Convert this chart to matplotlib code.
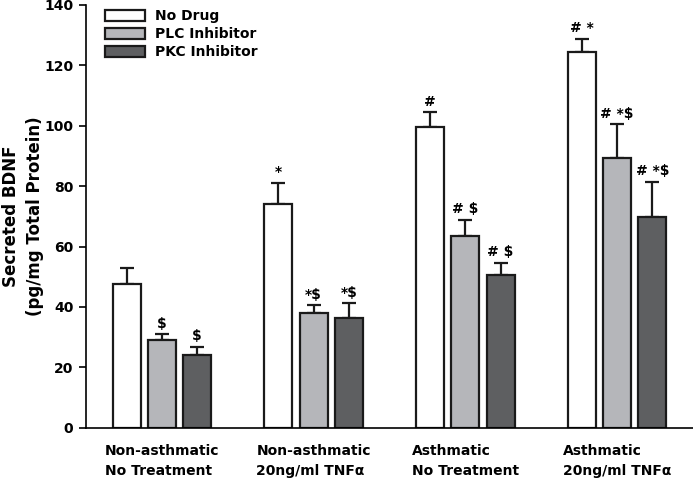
import matplotlib.pyplot as plt
import numpy as np

plt.rcParams['font.family'] = ['DejaVu Sans']
plt.rcParams['font.weight'] = 'bold'

groups = ['Non-asthmatic\nNo Treatment', 'Non-asthmatic\n20ng/ml TNF\u03b1',
          'Asthmatic\nNo Treatment', 'Asthmatic\n20ng/ml TNF\u03b1']
series = ['No Drug', 'PLC Inhibitor', 'PKC Inhibitor']
no_drug = [47.7, 74.2, 99.7, 124.4]
plc = [29.2, 38.0, 63.6, 89.2]
pkc = [24.1, 36.5, 50.7, 69.9]
no_drug_err = [5.3, 6.8, 4.7, 4.3]
plc_err = [1.7, 2.6, 5.2, 11.2]
pkc_err = [2.7, 4.7, 4.0, 11.5]
marks_no_drug = ['', '*', '#', '# *']
marks_plc = ['\\$', '*\\$', '# \\$', '# *\\$']
marks_pkc = ['\\$', '*\\$', '# \\$', '# *\\$']

colors = ['white', '#b5b6ba', '#5e5f61']

fig = plt.figure(figsize=(6.93, 4.78), dpi=100)
ax = fig.add_axes([0.124, 0.105, 0.876, 0.885])

x = np.arange(len(groups))
width = 0.185
offset = 0.232
values = [no_drug, plc, pkc]
errs = [no_drug_err, plc_err, pkc_err]
marks = [marks_no_drug, marks_plc, marks_pkc]

for i in range(3):
    pos = x + (i - 1) * offset
    ax.bar(pos, values[i], width, color=colors[i], edgecolor='#1a1a1a',
           linewidth=1.6, label=series[i], zorder=2)
    ax.errorbar(pos, values[i], yerr=[np.zeros(4), errs[i]], fmt='none',
                ecolor='#1a1a1a', elinewidth=1.6, capsize=4.7, capthick=1.6, zorder=1)
    for j in range(4):
        if marks[i][j]:
            ax.text(pos[j], values[i][j] + errs[i][j] + 1.2, marks[i][j],
                    ha='center', va='bottom', fontsize=10, fontweight='bold')

ax.set_xlim(-0.5, 3.5)
ax.set_ylim(0, 140)
ax.set_yticks(np.arange(0, 141, 20))
ax.set_xticks(x)
ax.set_xticklabels(groups, multialignment='left', fontsize=10, fontweight='bold',
                   linespacing=1.5)
ax.tick_params(axis='x', length=0, pad=12)
ax.tick_params(axis='y', direction='out', length=5, width=1.2, labelsize=10, pad=4)
for lab in ax.get_yticklabels():
    lab.set_fontweight('bold')
ax.spines['top'].set_visible(False)
ax.spines['right'].set_visible(False)
ax.spines['left'].set_linewidth(1.2)
ax.spines['bottom'].set_linewidth(1.2)

fig.text(23 / 693, 1 - 216 / 478, 'Secreted BDNF\n(pg/mg Total Protein)', rotation=90,
         ha='center', va='center', fontsize=12, fontweight='bold', linespacing=1.45)

ax.legend(loc='upper left', bbox_to_anchor=(0.031, 0.99), frameon=False,
          borderpad=0, borderaxespad=0,
          handlelength=2.9, handleheight=0.86, handletextpad=0.7, labelspacing=0.3,
          prop={'weight': 'bold', 'size': 10})

fig.savefig('out.png', dpi=100)
